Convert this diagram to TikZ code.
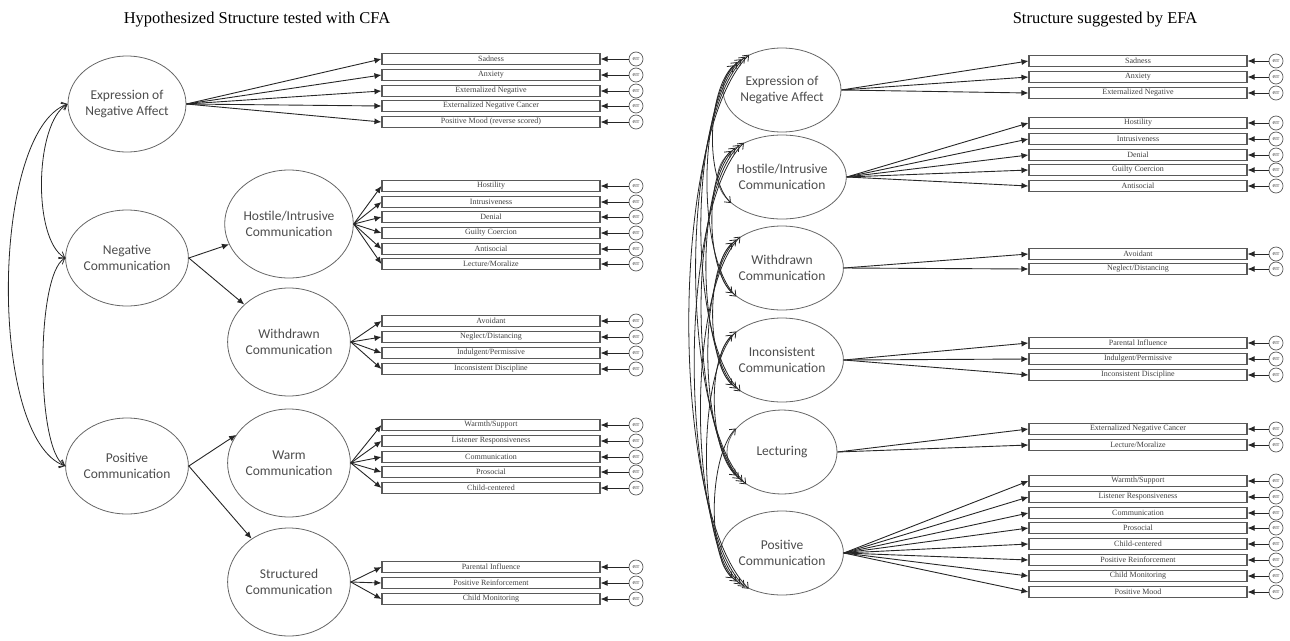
\documentclass[tikz,border=0pt]{standalone}
\usepackage{fontspec}
\setmainfont{Liberation Serif}
\newfontfamily\calib{Carlito}
\usepackage{xcolor}
\usepackage{tikz}
\usetikzlibrary{arrows.meta,shapes.geometric,positioning,calc}

% one factor with its indicator boxes and error terms
\newcommand{\indicators}[4]{%
  \foreach \y/\t [count=\n] in {#4} {
    \node[item] (#1-i\n) at (#2,-\y) {\t};
    \node[err] (#1-e\n) at (#3,-\y) {err};
    \draw[load] (#1-e\n) -- (#1-i\n);
    \draw[load] (#1.east) -- (#1-i\n.west);
  }}

\begin{document}
\begin{tikzpicture}[x=1pt,y=1pt,
  factor/.style={ellipse, draw=black!60, line width=0.8pt, align=center, inner sep=0pt,
    text=black!70, font=\calib\fontsize{13.5}{16}\selectfont},
  item/.style={draw=black!65, line width=1.1pt, minimum width=218pt, minimum height=11.5pt,
    inner sep=0pt, text=black!75, font=\fontsize{8}{8}\selectfont},
  err/.style={circle, draw=black!65, line width=0.7pt, minimum size=14pt, inner sep=0pt,
    text=black!75, font=\fontsize{6}{6}\selectfont},
  load/.style={-{Latex[length=7pt,width=6pt]}, line width=0.9pt, black!85},
  cov/.style={{Straight Barb[length=5pt,width=8pt]}-{Straight Barb[length=5pt,width=8pt]},
    line width=0.8pt, black!85},
  title/.style={font=\fontsize{16.5}{16.5}\selectfont}]
\useasboundingbox (0,0) rectangle (1290,-640);

% ---- hypothesized structure (CFA) ----
\node[title] (ltitle) at (257,-20) {Hypothesized Structure tested with CFA};

\node[factor, minimum width=113pt, minimum height=96pt] (expr) at (127,-104) {Expression of\\Negative Affect};
\node[factor, minimum width=113pt, minimum height=96pt] (neg) at (127,-258) {Negative\\Communication};
\node[factor, minimum width=113pt, minimum height=96pt] (pos) at (127,-466) {Positive\\Communication};

\node[factor, minimum width=112pt, minimum height=108pt] (host) at (289,-224) {Hostile/Intrusive\\Communication};
\node[factor, minimum width=112pt, minimum height=108pt] (with) at (289,-342) {Withdrawn\\Communication};
\node[factor, minimum width=112pt, minimum height=108pt] (warm) at (289,-463) {Warm\\Communication};
\node[factor, minimum width=112pt, minimum height=108pt] (struc) at (289,-582) {Structured\\Communication};

\draw[load] (neg.east) -- (host);
\draw[load] (neg.east) -- (with);
\draw[load] (pos.east) -- (warm.152);
\draw[load] (pos.east) -- (struc);

\draw[cov] (expr.west) to[out=210, in=150, distance=38pt] (neg.west);
\draw[cov] (neg.west) to[out=210, in=150, distance=34pt] (pos.west);
\draw[cov] (expr.west) to[out=200, in=160, distance=82pt] (pos.west);

\indicators{expr}{491}{636}{59/Sadness, 75/Anxiety, 91/Externalized Negative,
  106/Externalized Negative Cancer, 122/Positive Mood (reverse scored)}
\indicators{host}{491}{636}{186/Hostility, 202/Intrusiveness, 217/Denial, 233/Guilty Coercion,
  249/Antisocial, 264/{Lecture/Moralize}}
\indicators{with}{491}{636}{321/Avoidant, 337/{Neglect/Distancing}, 353/{Indulgent/Permissive},
  369/Inconsistent Discipline}
\indicators{warm}{491}{636}{425/{Warmth/Support}, 441/Listener Responsiveness, 457/Communication,
  472/Prosocial, 488/Child-centered}
\indicators{struc}{491}{636}{567/Parental Influence, 583/Positive Reinforcement, 599/Child Monitoring}

% ---- structure suggested by EFA ----
\node[title] (rtitle) at (1105,-20) {Structure suggested by EFA};

\tikzset{rfactor/.style={factor, minimum width=110pt, minimum height=84pt}}
\node[rfactor] (r1) at (782,-90) {Expression of\\Negative Affect};
\node[rfactor] (r2) at (782,-177) {Hostile/Intrusive\\Communication};
\node[rfactor] (r3) at (782,-268) {Withdrawn\\Communication};
\node[rfactor] (r4) at (782,-360) {Inconsistent\\Communication};
\node[rfactor] (r5) at (782,-452) {Lecturing};
\node[rfactor] (r6) at (782,-553) {Positive\\Communication};

% every pair of factors is correlated
\foreach \i in {1,...,5} {
  \pgfmathtruncatemacro\lo{\i+1}
  \foreach \j in {\lo,...,6} {
    \pgfmathtruncatemacro\k{\j-\i}
    \pgfmathtruncatemacro\a{158-5*\k}
    \pgfmathtruncatemacro\b{202+5*\k}
    \pgfmathtruncatemacro\d{18+19*\k}
    \draw[cov] (r\i.\a) to[out=225, in=135, distance=\d pt] (r\j.\b);
  }
}

\indicators{r1}{1138}{1276}{61/Sadness, 77/Anxiety, 93/Externalized Negative}
\indicators{r2}{1138}{1276}{123/Hostility, 139/Intrusiveness, 155/Denial, 170/Guilty Coercion,
  186/Antisocial}
\indicators{r3}{1138}{1276}{254/Avoidant, 269/{Neglect/Distancing}}
\indicators{r4}{1138}{1276}{343/Parental Influence, 359/{Indulgent/Permissive},
  375/Inconsistent Discipline}
\indicators{r5}{1138}{1276}{429/Externalized Negative Cancer, 445/{Lecture/Moralize}}
\indicators{r6}{1138}{1276}{481/{Warmth/Support}, 497/Listener Responsiveness, 513/Communication,
  528/Prosocial, 544/Child-centered, 560/Positive Reinforcement, 576/Child Monitoring,
  592/Positive Mood}
\end{tikzpicture}
\end{document}
